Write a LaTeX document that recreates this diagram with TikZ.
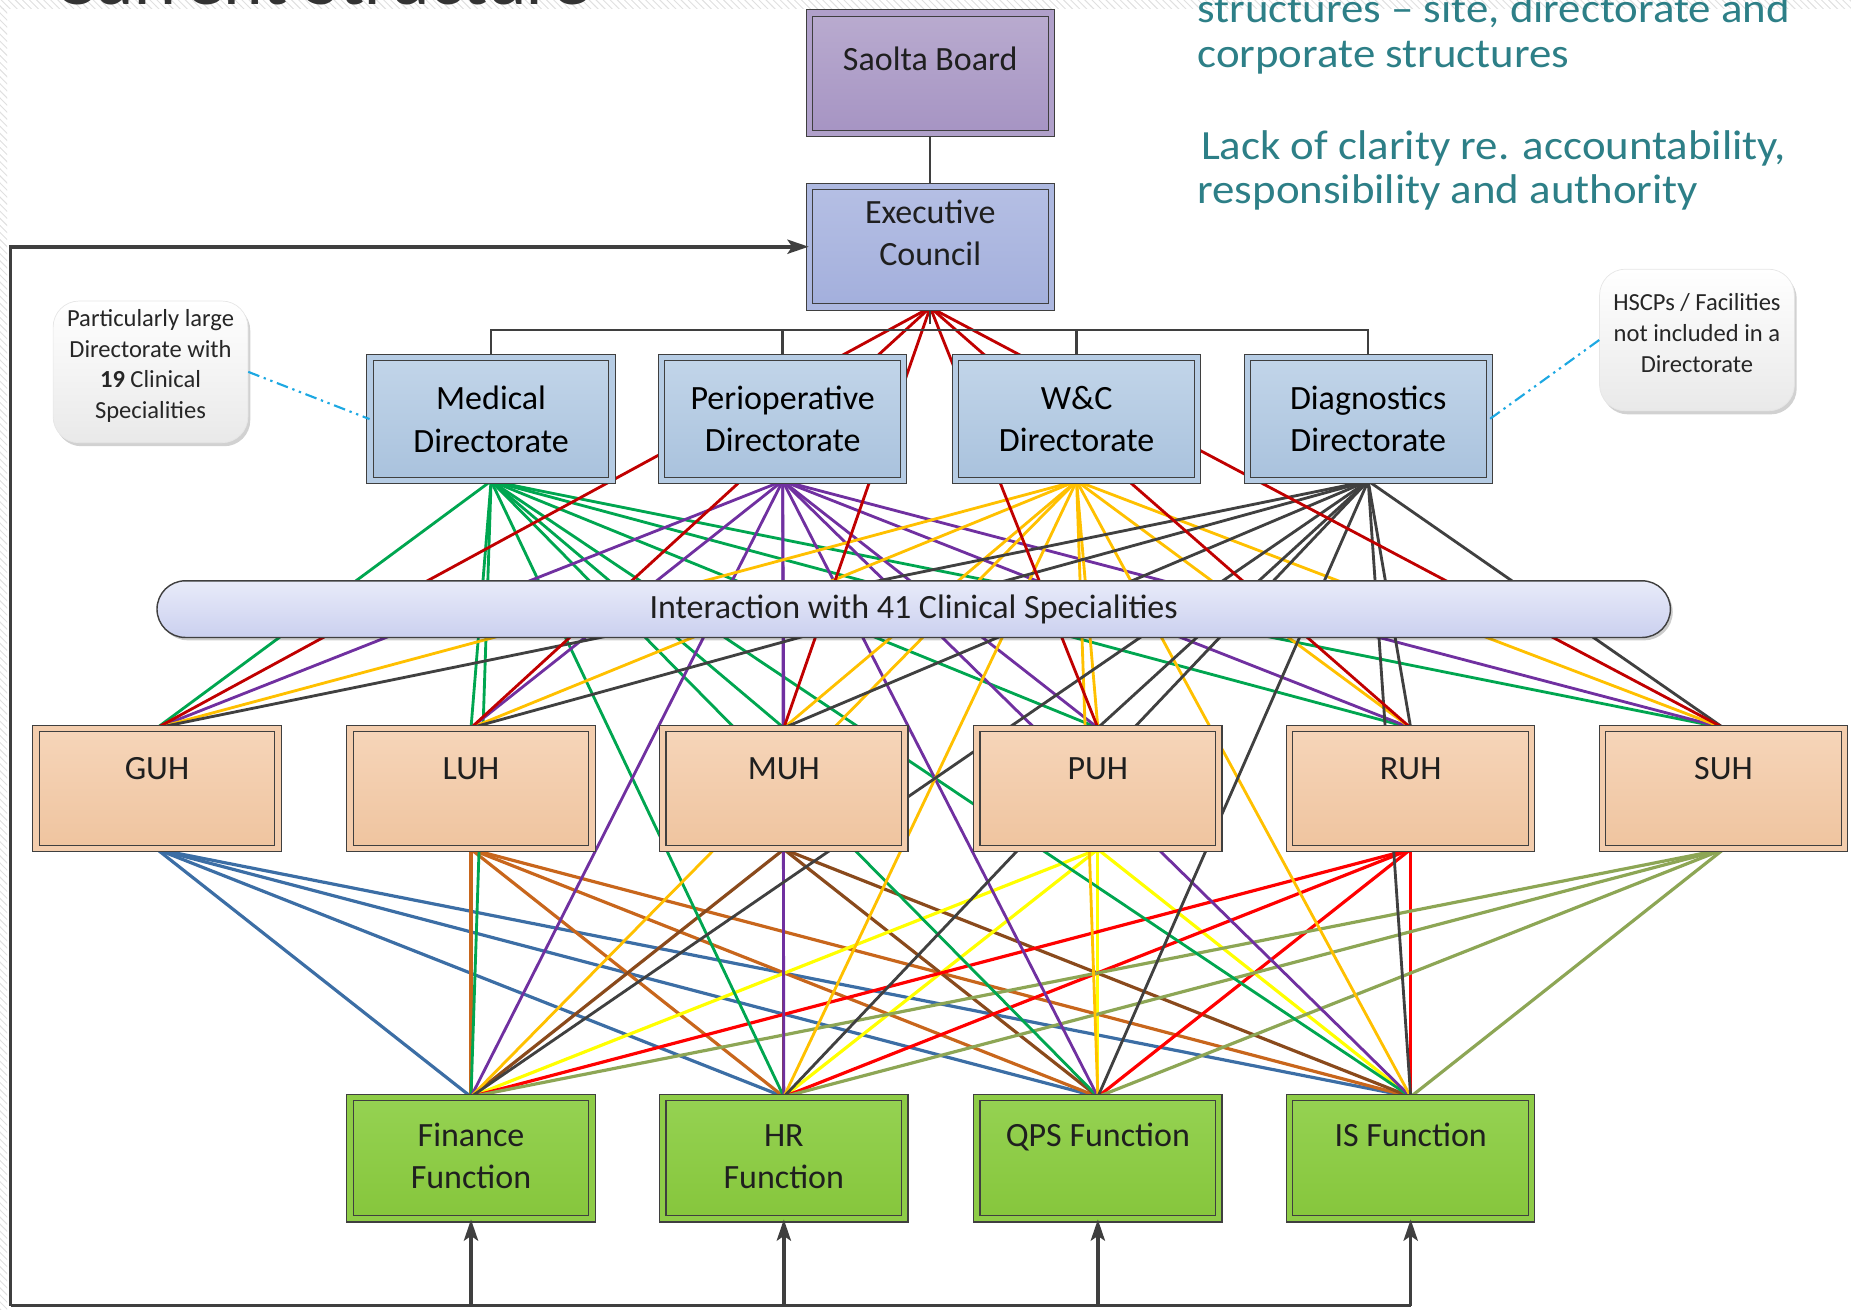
\documentclass[tikz,border=0pt]{standalone}
\usepackage{fontspec}
\setmainfont{Carlito}
\newfontfamily\tealfont[FakeStretch=1.08]{Carlito}
\newfontfamily\titlefont[FakeStretch=1.1]{Carlito}
\usetikzlibrary{shadows,arrows.meta,patterns}
\definecolor{bord}{HTML}{3F3F3F}
\definecolor{tealc}{HTML}{2D7F87}
\definecolor{cmed}{HTML}{00A650}
\definecolor{cper}{HTML}{7030A0}
\definecolor{cwc}{HTML}{FFC000}
\definecolor{cdia}{HTML}{404040}
\definecolor{cexec}{HTML}{C00000}
\definecolor{cguh}{HTML}{3C6EA5}
\definecolor{cluh}{HTML}{C8661C}
\definecolor{cmuh}{HTML}{8A4A1C}
\definecolor{cpuh}{HTML}{FFFF00}
\definecolor{cruh}{HTML}{FF0000}
\definecolor{csuh}{HTML}{8DA655}
\definecolor{cdash}{HTML}{1DA8E2}
\definecolor{boardt}{HTML}{B9ABCF}\definecolor{boardb}{HTML}{A694C3}\definecolor{boardm}{HTML}{B0A0CA}
\definecolor{exect}{HTML}{B5BFE4}\definecolor{execb}{HTML}{A3AFDC}\definecolor{execm}{HTML}{ADB8E0}
\definecolor{dirt}{HTML}{C2D5E9}\definecolor{dirb}{HTML}{A9C2DD}\definecolor{dirm}{HTML}{B6CCE4}
\definecolor{hospt}{HTML}{F6D5B9}\definecolor{hospb}{HTML}{EFC49F}\definecolor{hospm}{HTML}{F3CDAD}
\definecolor{funct}{HTML}{95D252}\definecolor{funcb}{HTML}{86C63C}\definecolor{funcm}{HTML}{8ECC47}
\definecolor{bart}{HTML}{E8EBF9}\definecolor{barb}{HTML}{CBD0EF}
\definecolor{callb}{HTML}{E9E9E9}\definecolor{calld}{HTML}{E6E6E6}
\newcommand{\twoline}[2]{\parbox[t]{120pt}{\centering #1\\#2}}
\pgfdeclarelayer{bg}
\pgfsetlayers{bg,main}
\begin{document}
\begin{tikzpicture}[x=0.5pt,y=-0.5pt,
  bx/.style={draw=bord, line width=0.45pt, double distance=2.2pt, inner sep=0pt,
    minimum width=102.5pt, minimum height=51pt,
    drop shadow={shadow xshift=1.3pt,shadow yshift=-1.3pt,opacity=0.28,fill=black}},
  boardc/.style={top color=boardt, bottom color=boardb, double=boardm},
  execc/.style={top color=exect, bottom color=execb, double=execm},
  dirc/.style={top color=dirt, bottom color=dirb, double=dirm, minimum height=52pt, align=center, font=\fontsize{14.4}{18}\selectfont},
  hospc/.style={top color=hospt, bottom color=hospb, double=hospm},
  funcc/.style={top color=funct, bottom color=funcb, double=funcm, minimum height=51.5pt},
  lbl/.style={font=\fontsize{14.4}{18}\selectfont, inner sep=0pt, text=black!88},
  conn/.style={line width=1.2pt},
  conn2/.style={line width=1.35pt},
  org/.style={draw=bord, line width=1pt},
  fb/.style={draw=bord, line width=1.5pt},
  tip/.style={-{Stealth[length=9pt,width=6pt,inset=2pt]}},
  callout/.style={rounded corners=11pt, top color=white, bottom color=callb, draw=calld, line width=0.3pt,
    minimum width=82.5pt, minimum height=60pt, inner sep=0pt,
    drop shadow={shadow xshift=1pt,shadow yshift=-1.5pt,opacity=0.18,fill=black}},
  ctext/.style={align=center, inner sep=0pt, text=black!85, font=\fontsize{10.4}{13}\selectfont},
  dd/.style={draw=cdash, line width=0.9pt, dash pattern=on 5pt off 2pt on 1pt off 2pt on 1pt off 2pt},
  tealt/.style={font=\tealfont\fontsize{17.6}{18.5}\selectfont, text=tealc, inner sep=0pt, anchor=base west}
]
\useasboundingbox (0,0) rectangle (1568,1109);
% faint slide texture
\fill[pattern=north west lines, pattern color=black!12] (0,0) rectangle (1568,7);
\fill[pattern=north west lines, pattern color=black!12] (0,7) rectangle (6,1109);

% title fragments (cut off at the top, as in the slide)
\node[font=\titlefont\fontsize{29}{30}\selectfont, text=black!80, anchor=base west, inner sep=0pt] (title) at (46,4) {Current Structure};
\node[tealt] (s1) at (1014,19) {structures – site, directorate and};
\node[tealt] (s2) at (1014,57) {corporate structures};
\node[tealt] (s3) at (1017,135) {Lack of clarity re. accountability,};
\node[tealt] (s4) at (1014,172) {responsibility and authority};

% top boxes
\node[bx, boardc] (board) at (788,62) {};
\node[lbl, anchor=base] (boardtx) at (788,60) {Saolta Board};
\node[bx, execc] (exec) at (788,209) {};
\node[lbl, anchor=base] (exectx) at (788,189) {\twoline{Executive}{Council}};

% directorates
\node[bx, dirc] (med) at (416,355) {Medical\\Directorate};
\node[bx, dirc] (per) at (663,355) {Perioperative\\Directorate};
\node[bx, dirc] (wc) at (912,355) {W\&C\\Directorate};
\node[bx, dirc] (dia) at (1159,355) {Diagnostics\\Directorate};

% hospitals
\foreach \n/\x/\t in {guh/133/GUH, luh/399/LUH, muh/664/MUH, puh/930/PUH, ruh/1195/RUH, suh/1460/SUH}{
  \node[bx, hospc] (\n) at (\x,668) {};
  \node[lbl, anchor=base] (\n t) at (\x,660) {\t};
}

% functions
\node[bx, funcc] (fin) at (399,981) {};
\node[lbl, anchor=base] (fint) at (399,971) {\twoline{Finance}{Function}};
\node[bx, funcc] (hr) at (664,981) {};
\node[lbl, anchor=base] (hrt) at (664,971) {\twoline{HR}{Function}};
\node[bx, funcc] (qps) at (930,981) {};
\node[lbl, anchor=base] (qpst) at (930,971) {QPS Function};
\node[bx, funcc] (is) at (1195,981) {};
\node[lbl, anchor=base] (ist) at (1195,971) {IS Function};

% interaction bar
\node[draw=bord, line width=0.6pt, rounded corners=12pt, top color=bart, bottom color=barb,
  minimum width=641pt, minimum height=24pt, inner sep=0pt, lbl,
  drop shadow={shadow xshift=1pt,shadow yshift=-1.2pt,opacity=0.2,fill=black}] (bar) at (774,516) {Interaction with 41 Clinical Specialities};

% callouts
\node[callout] (cl) at (127.5,315) {};
\node[ctext] (clt) at (127.5,310) {Particularly large\\Directorate with\\\textbf{19} Clinical\\Specialities};
\node[callout] (cr) at (1437.5,288) {};
\node[ctext] (crt) at (1437.5,282) {HSCPs / Facilities\\not included in a\\Directorate};
\draw[dd] (cl.east) -- (med.west);
\draw[dd] (cr.west) -- (dia.east);

\begin{pgfonlayer}{bg}
  % hospitals to functions
  \foreach \h/\c in {guh/cguh, luh/cluh, muh/cmuh, puh/cpuh, ruh/cruh, suh/csuh}{
    \foreach \f in {fin, hr, qps, is}{
      \draw[conn2, draw=\c] (\h.south) -- (\f.north);
    }
  }
  % directorates to hospitals and functions
  \foreach \d/\c in {med/cmed, per/cper, wc/cwc, dia/cdia}{
    \foreach \t in {guh, luh, muh, puh, ruh, suh, fin, hr, qps, is}{
      \draw[conn, draw=\c] (\d.south) -- (\t.north);
    }
  }
  % executive council to hospitals
  \foreach \h in {guh, luh, muh, puh, ruh, suh}{
    \draw[conn, draw=cexec] (exec.south) -- (\h.north);
  }
  % org tree
  \draw[org] (board.south) -- (exec.north);
  \draw[org] (exec.south) -- ++(0,14);
  \draw[org] (med.north) -- ++(0,-23) -| (dia.north);
  \draw[org] (per.north) -- ++(0,-23);
  \draw[org] (wc.north) -- ++(0,-23);
\end{pgfonlayer}

% feedback loop
\coordinate (fbc) at (9,1106);
\draw[fb, tip] (fbc) |- (exec.west);
\draw[fb] (fbc) -- (is.south |- fbc);
\foreach \f in {fin, hr, qps, is}{
  \draw[fb, tip] (\f.south |- fbc) -- (\f.south);
}
\end{tikzpicture}
\end{document}
